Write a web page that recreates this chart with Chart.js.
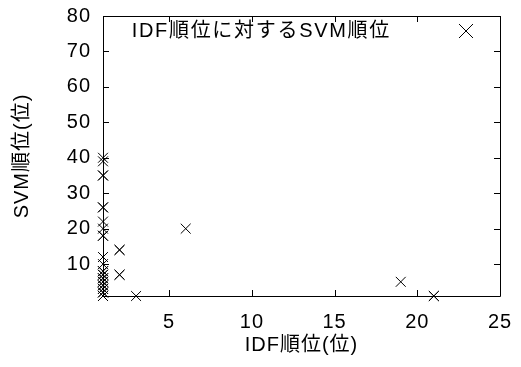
<!DOCTYPE html>
<html>
<head>
<meta charset="utf-8">
<script src="https://cdn.jsdelivr.net/npm/chart.js@4"></script>
<style>
  html, body { margin: 0; padding: 0; background: #fff; }
  #wrap { width: 521px; height: 367px; }
</style>
</head>
<body>
<div id="wrap"><canvas id="chart"></canvas></div>
<script>
// IDF rank (x) vs SVM rank (y); repeated pairs show up as bolder marks
const idfRank = [1, 1, 1, 1, 1, 1, 1, 1, 1, 1, 1, 1, 1, 1, 1, 1, 1, 1, 1, 1, 1, 1, 1, 1, 1, 1, 1, 1, 1, 1,
                 2, 2, 2, 2, 3, 6, 19, 21, 21];
const svmRank = [40, 39, 35, 35, 26, 26, 22, 20, 18, 18, 12, 10, 8, 8, 7, 7, 6, 6, 5, 5, 4, 4, 3, 3, 2, 2, 1, 1, 1, 1,
                 14, 14, 7, 7, 1, 20, 5, 1, 1];
const xTicks = [5, 10, 15, 20, 25];
const yTicks = [10, 20, 30, 40, 50, 60, 70, 80];
const seriesLabel = 'IDF順位に対するSVM順位';

const FONT = "'Liberation Sans', Arial, 'Noto Sans CJK JP', sans-serif";
const SIZE = 20;

// slightly wider text, like the original terminal font
const spacingPlugin = {
    id: 'spacing',
    beforeUpdate(chart) { chart.ctx.letterSpacing = '1px'; },
    beforeDraw(chart) { chart.ctx.letterSpacing = '1px'; }
};

// gnuplot-style frame, inward ticks on all four sides, and key inside the plot
const framePlugin = {
    id: 'frame',
    afterDatasetsDraw(chart) {
        const { ctx, chartArea: a, scales } = chart;
        const len = 6;
        ctx.save();
        ctx.strokeStyle = '#000';
        ctx.lineWidth = 1;
        ctx.beginPath();
        ctx.rect(Math.round(a.left) + 0.5, Math.round(a.top) + 0.5,
                 Math.round(a.right - a.left), Math.round(a.bottom - a.top));
        xTicks.forEach(v => {
            const px = Math.round(scales.x.getPixelForValue(v)) + 0.5;
            ctx.moveTo(px, a.bottom); ctx.lineTo(px, a.bottom - len);
            ctx.moveTo(px, a.top); ctx.lineTo(px, a.top + len);
        });
        yTicks.forEach(v => {
            const py = Math.round(scales.y.getPixelForValue(v)) + 0.5;
            ctx.moveTo(a.left, py); ctx.lineTo(a.left + len, py);
            ctx.moveTo(a.right, py); ctx.lineTo(a.right - len, py);
        });
        ctx.stroke();

        // key
        const ky = a.top + 15;
        ctx.fillStyle = '#000';
        ctx.font = SIZE + 'px ' + FONT;
        ctx.letterSpacing = '1.7px';
        ctx.textAlign = 'right';
        ctx.textBaseline = 'middle';
        ctx.fillText(chart.data.datasets[0].label, a.left + 288, ky);
        const kx = a.left + 363, r = 7;
        ctx.beginPath();
        ctx.moveTo(kx - r, ky - r); ctx.lineTo(kx + r, ky + r);
        ctx.moveTo(kx - r, ky + r); ctx.lineTo(kx + r, ky - r);
        ctx.stroke();
        ctx.restore();
    }
};

new Chart(document.getElementById('chart').getContext('2d'), {
    type: 'scatter',
    data: {
        datasets: [{
            label: seriesLabel,
            data: idfRank.map((x, i) => ({ x: x, y: svmRank[i] })),
            pointStyle: 'crossRot',
            pointRadius: 7,
            pointHoverRadius: 7,
            borderColor: '#000',
            backgroundColor: '#000',
            borderWidth: 1,
            clip: false
        }]
    },
    options: {
        responsive: true,
        maintainAspectRatio: false,
        animation: false,
        layout: { padding: { left: 0, right: 21, top: 16, bottom: 0 } },
        plugins: {
            legend: { display: false },
            tooltip: { enabled: false }
        },
        scales: {
            x: {
                type: 'linear',
                min: 1,
                max: 25,
                afterBuildTicks: s => { s.ticks = xTicks.map(v => ({ value: v })); },
                afterFit: s => { s.height = 71; s.paddingLeft = 0; s.paddingRight = 0; },
                grid: { display: false, drawTicks: false },
                border: { display: false },
                ticks: { color: '#000', padding: 14, font: { family: FONT, size: SIZE } },
                title: {
                    display: true,
                    text: 'IDF順位(位)',
                    color: '#000',
                    padding: { top: 0, bottom: 10 },
                    font: { family: FONT, size: SIZE }
                }
            },
            y: {
                type: 'linear',
                min: 1,
                max: 80,
                afterBuildTicks: s => { s.ticks = yTicks.map(v => ({ value: v })); },
                afterFit: s => { s.width = 103; s.paddingTop = 0; s.paddingBottom = 0; },
                grid: { display: false, drawTicks: false },
                border: { display: false },
                ticks: { color: '#000', padding: 12, font: { family: FONT, size: SIZE } },
                title: {
                    display: true,
                    text: 'SVM順位(位)',
                    color: '#000',
                    padding: { top: 10, bottom: 0 },
                    font: { family: FONT, size: SIZE }
                }
            }
        }
    },
    plugins: [spacingPlugin, framePlugin]
});
</script>
</body>
</html>
